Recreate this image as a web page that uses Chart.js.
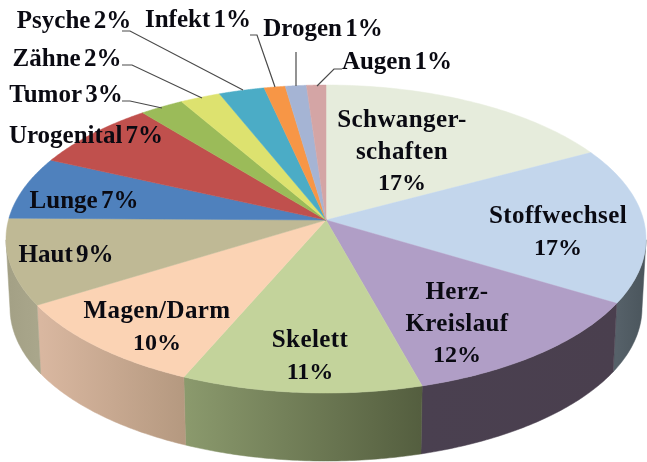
<!DOCTYPE html>
<html>
<head>
<meta charset="utf-8">
<style>
html, body { margin: 0; padding: 0; background: #fff; }
canvas { display: block; filter: blur(0.4px); }
</style>
<script src="https://cdn.jsdelivr.net/npm/chart.js@4/dist/chart.umd.min.js"></script>
</head>
<body>
<canvas id="chartContainer" width="647" height="462"></canvas>
<script>
const categories = ['Schwanger-\nschaften', 'Stoffwechsel', 'Herz-\nKreislauf', 'Skelett', 'Magen/Darm', 'Haut', 'Lunge', 'Urogenital', 'Tumor', 'Zähne', 'Psyche', 'Infekt', 'Drogen', 'Augen'];
// slice sizes, the labels only show rounded numbers
const values = [17.2, 16.4, 12.1, 10.8, 9.7, 9.0, 6.6, 7.3, 2.5, 2.3, 2.6, 1.2, 1.2, 1.1];
const percentLabels = [17, 17, 12, 11, 10, 9, 7, 7, 3, 2, 2, 1, 1, 1];

const topColors = ['#e6ecdc', '#c3d6ec', '#b09ec6', '#c3d39b', '#fbd3b4', '#bfb995', '#4f81bd', '#c0504d', '#9bbb59', '#dde26f', '#4bacc6', '#f79646', '#a5b4d4', '#d4a5a5'];
const sideColorsLeft = ['#000', '#566169', '#4a4050', '#8b9a6d', '#dab8a1', '#a3a085', '#000', '#000', '#000', '#000', '#000', '#000', '#000', '#000'];
const sideColorsRight = ['#000', '#4a555c', '#4a3f4e', '#545e3f', '#b59980', '#a9a68b', '#000', '#000', '#000', '#000', '#000', '#000', '#000', '#000'];

// label center x and baseline y, one row per slice
const labelX = [402, 558, 457, 310, 157, 66, 84, 86, 66, 67, 74, 198, 323, 397];
const labelY = [127, 223, 299, 347, 318, 262, 208, 143, 102, 66, 28, 27, 36, 69];
// first few slices put the percentage on its own line
const ownLineCount = 5;

// leader lines: knee point near the label, only for the small slices
const leaderStartX = [122, 122, 122, 250, 296, 342];
const leaderStartY = [101, 65, 31, 35, 52, 69];
const leaderKneeX = [130, 132, 130, 257, 296, 334];
const leaderKneeY = [101, 65, 31, 35, 52, 69];
const leaderEndX = [162, 202, 243, 275, 296, 317];
const leaderEndY = [108, 98, 90, 87, 86, 86];

// top face ellipse, lower rim ellipse, and how far the apex sits above the ellipse center
const topRim = { cx: 326, cy: 239, rx: 320, ry: 154 };
const lowRim = { cx: 326, cy: 308, rx: 316, ry: 153 };
const apexShift = -0.123;

// perspective view of the unit disc, keeps the rim on the ellipse
function project(radius, angle) {
    let u = radius * Math.cos(angle);
    let v = radius * Math.sin(angle);
    let w = 1 + apexShift * v;
    return {
        u: u * Math.sqrt(1 - apexShift * apexShift) / w,
        v: (v + apexShift) / w
    };
}

function toRim(p, rim) {
    return { x: rim.cx + rim.rx * p.u, y: rim.cy + rim.ry * p.v };
}

function drawSide(ctx, arc, i) {
    let upper = [];
    let lower = [];
    for (let s = 0; s <= 60; s++) {
        let p = project(1, arc.startAngle + (arc.endAngle - arc.startAngle) * s / 60);
        if (p.v >= 0) {
            upper.push(toRim(p, topRim));
            lower.push(toRim(p, lowRim));
        }
    }
    if (upper.length < 2) return;

    let minX = Math.min(...upper.map(p => p.x));
    let maxX = Math.max(...upper.map(p => p.x));
    let gradient = ctx.createLinearGradient(minX, 0, maxX, 0);
    gradient.addColorStop(0, sideColorsLeft[i]);
    gradient.addColorStop(1, sideColorsRight[i]);

    ctx.beginPath();
    upper.forEach((p, n) => n ? ctx.lineTo(p.x, p.y) : ctx.moveTo(p.x, p.y));
    lower.reverse().forEach(p => ctx.lineTo(p.x, p.y));
    ctx.closePath();
    ctx.fillStyle = gradient;
    ctx.strokeStyle = gradient;
    ctx.lineWidth = 0.5;
    ctx.fill();
    ctx.stroke();
}

function drawTop(ctx, arc, i) {
    let apex = toRim(project(0, 0), topRim);
    ctx.beginPath();
    ctx.moveTo(apex.x, apex.y);
    for (let s = 0; s <= 60; s++) {
        let p = toRim(project(1, arc.startAngle + (arc.endAngle - arc.startAngle) * s / 60), topRim);
        ctx.lineTo(p.x, p.y);
    }
    ctx.closePath();
    ctx.fillStyle = topColors[i];
    ctx.strokeStyle = topColors[i];
    ctx.lineWidth = 0.5;
    ctx.fill();
    ctx.stroke();
}

function drawLeaders(ctx) {
    ctx.strokeStyle = '#4a4a4a';
    ctx.lineWidth = 1.2;
    for (let n = 0; n < leaderStartX.length; n++) {
        ctx.beginPath();
        ctx.moveTo(leaderStartX[n], leaderStartY[n]);
        ctx.lineTo(leaderKneeX[n], leaderKneeY[n]);
        ctx.lineTo(leaderEndX[n], leaderEndY[n]);
        ctx.stroke();
    }
}

function drawLabels(ctx) {
    ctx.textAlign = 'center';
    ctx.textBaseline = 'alphabetic';
    ctx.fillStyle = '#0a0a12';
    ctx.wordSpacing = '-3px';
    categories.forEach((name, i) => {
        let lines = name.split('\n');
        if (i >= ownLineCount) {
            lines[lines.length - 1] += ' ' + percentLabels[i] + '%';
        }
        ctx.font = 'bold 25px "Liberation Serif"';
        ctx.letterSpacing = i >= ownLineCount ? '0px' : '0.4px';
        lines.forEach((line, n) => ctx.fillText(line, labelX[i], labelY[i] + n * 31.5));
        if (i < ownLineCount) {
            ctx.font = 'bold 24px "Liberation Serif"';
            ctx.letterSpacing = '0px';
            ctx.fillText(percentLabels[i] + '%', labelX[i], labelY[i] + lines.length * 31.5);
        }
    });
}

const pie3dPlugin = {
    id: 'pie3d',
    beforeDatasetsDraw(chart) {
        const ctx = chart.ctx;
        const arcs = chart.getDatasetMeta(0).data;
        ctx.save();
        arcs.forEach((arc, i) => drawSide(ctx, arc, i));
        arcs.forEach((arc, i) => drawTop(ctx, arc, i));
        drawLeaders(ctx);
        drawLabels(ctx);
        ctx.restore();
        return false;
    }
};

new Chart(document.getElementById('chartContainer'), {
    type: 'pie',
    data: {
        labels: categories,
        datasets: [{ data: values, backgroundColor: topColors, borderWidth: 0 }]
    },
    options: {
        responsive: false,
        animation: false,
        events: [],
        plugins: { legend: { display: false }, tooltip: { enabled: false } }
    },
    plugins: [pie3dPlugin]
});
</script>
</body>
</html>
